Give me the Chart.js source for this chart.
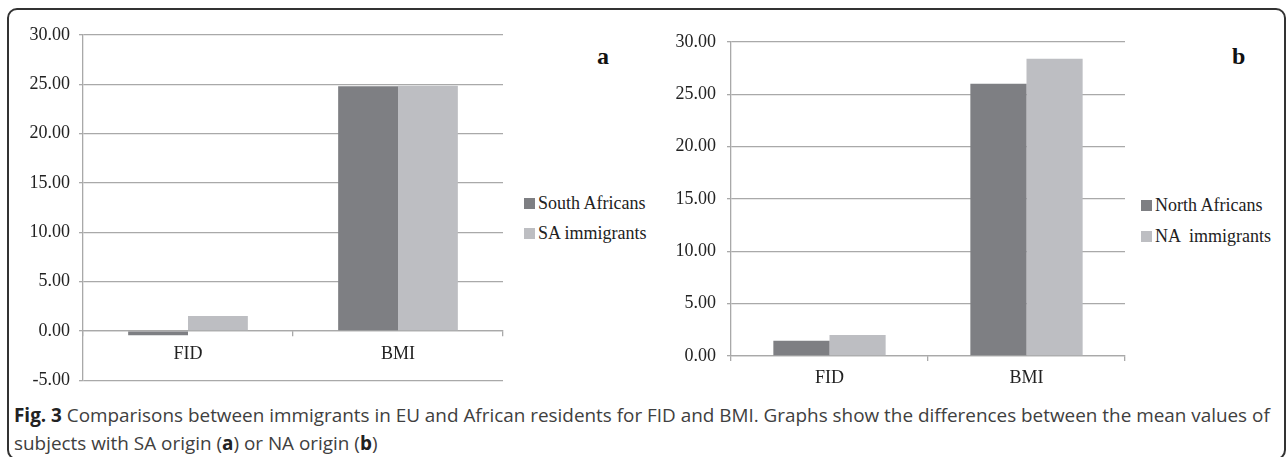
<!DOCTYPE html>
<html>
<head>
<meta charset="utf-8">
<script src="https://cdn.jsdelivr.net/npm/chart.js"></script>
<style>
  html, body { margin: 0; padding: 0; background: #fff; }
  body { width: 1288px; height: 457px; position: relative; overflow: hidden; }
  .frame {
    position: absolute; left: 7px; top: 8px; width: 1275px; height: 448px;
    border: 2px solid #333; border-radius: 10px;
  }
  .chart { position: absolute; }
  .legend { position: absolute; font-family: "Liberation Serif", serif; font-size: 18px; color: #222; }
  .legend div { position: absolute; white-space: pre; line-height: 20px; }
  .legend span.box { display: inline-block; width: 11px; height: 11px; margin-right: 3px; vertical-align: 0px; }
  .panel { position: absolute; font-family: "Liberation Serif", serif; font-weight: bold; font-size: 24px; color: #111; }
  .caption {
    position: absolute; left: 14px; top: 401px; font-family: "Open Sans", sans-serif;
    font-size: 18.9px; line-height: 28px; color: #404040; white-space: nowrap;
  }
  .caption b { color: #222; }
</style>
</head>
<body>
<div class="frame"></div>

<div class="chart" style="left:10px; top:14px;"><canvas id="chartA" width="500" height="386"></canvas></div>
<div class="chart" style="left:660px; top:14px;"><canvas id="chartB" width="470" height="380"></canvas></div>

<div class="panel" style="left:597px; top:43px;">a</div>
<div class="panel" style="left:1232px; top:43px;">b</div>

<div class="legend" id="legendA" style="left:524px; top:193px;"></div>
<div class="legend" id="legendB" style="left:1141px; top:195px;"></div>

<div class="caption" id="caption">
  <b>Fig. 3</b> Comparisons between immigrants in EU and African residents for FID and BMI. Graphs show the differences between the mean values of<br>
  subjects with SA origin (<b>a</b>) or NA origin (<b>b</b>)
</div>

<script>
// data
const categories = ["FID", "BMI"];

const labelsA = ["South Africans", "SA immigrants"];
const southAfricans = [-0.45, 24.8];
const saImmigrants = [1.5, 24.85];
const axisA = [-5, 30, 5];

const labelsB = ["North Africans", "NA  immigrants"];
const northAfricans = [1.45, 26.0];
const naImmigrants = [2.0, 28.4];
const axisB = [0, 30, 5];

const darkGray = "#7e7f83";
const lightGray = "#bdbec2";
const gridGray = "#a9a9a9";
const tickFont = { family: "Liberation Serif", size: 18 };

function makeChart(id, series, labels, axis, opts) {
  const ctx = document.getElementById(id).getContext("2d");
  return new Chart(ctx, {
    type: "bar",
    data: {
      labels: categories,
      datasets: [
        { label: labels[0], data: series[0], backgroundColor: darkGray, categoryPercentage: 0.57, barPercentage: 1.0 },
        { label: labels[1], data: series[1], backgroundColor: lightGray, categoryPercentage: 0.57, barPercentage: 1.0 }
      ]
    },
    options: {
      responsive: false,
      animation: false,
      layout: { padding: opts.padding },
      plugins: { legend: { display: false }, tooltip: { enabled: false } },
      scales: {
        x: {
          position: opts.xPosition,
          grid: { drawOnChartArea: false, offset: true, tickLength: 5, color: gridGray, lineWidth: 1.3 },
          border: { color: gridGray, width: 1.3 },
          ticks: { font: tickFont, color: "#222", padding: opts.xPad },
          afterFit: s => { if (opts.xHeight) s.height = opts.xHeight; }
        },
        y: {
          min: axis[0],
          max: axis[1],
          grid: { color: gridGray, lineWidth: 1.3, tickLength: 4 },
          border: { color: gridGray, width: 1.3 },
          ticks: {
            stepSize: axis[2],
            font: tickFont,
            color: "#222",
            padding: opts.yPad,
            callback: v => v.toFixed(2)
          },
          afterFit: s => { s.width = opts.yWidth; }
        }
      }
    }
  });
}

makeChart("chartA", [southAfricans, saImmigrants], labelsA, axisA, {
  padding: { top: 21, right: 7, bottom: 10, left: 0 },
  xPosition: { y: 0 },
  xPad: 8,
  yWidth: 73,
  yPad: 9
});

makeChart("chartB", [northAfricans, naImmigrants], labelsB, axisB, {
  padding: { top: 28, right: 5, bottom: 8, left: 0 },
  xPosition: "bottom",
  xPad: 6,
  xHeight: 30,
  yWidth: 71,
  yPad: 11
});

function buildLegend(id, labels, gap) {
  const el = document.getElementById(id);
  [darkGray, lightGray].forEach((c, i) => {
    const row = document.createElement("div");
    row.style.top = (i * gap) + "px";
    row.innerHTML = '<span class="box" style="background:' + c + '"></span>' + labels[i];
    el.appendChild(row);
  });
}
buildLegend("legendA", labelsA, 30);
buildLegend("legendB", labelsB, 31);
</script>
</body>
</html>
